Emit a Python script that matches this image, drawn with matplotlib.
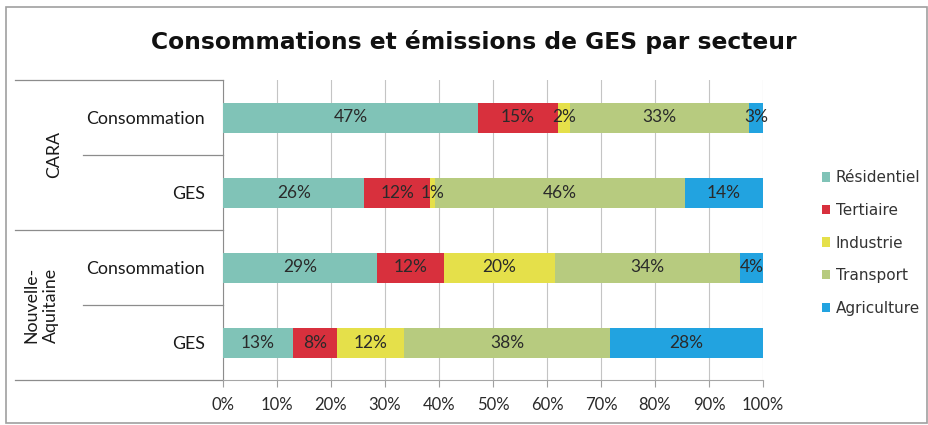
import matplotlib.pyplot as plt
import matplotlib.transforms as mtransforms
from matplotlib.lines import Line2D
from matplotlib.patches import Patch, Rectangle
import numpy as np

# data (shares in %)
rows = ["Consommation", "GES", "Consommation", "GES"]
groups = ["CARA", "Nouvelle-\nAquitaine"]
sectors = ["Résidentiel", "Tertiaire", "Industrie", "Transport", "Agriculture"]
residentiel = [47.2, 26.2, 28.6, 12.9]
tertiaire = [14.8, 12.2, 12.4, 8.3]
industrie = [2.3, 0.8, 20.4, 12.3]
transport = [33.1, 46.4, 34.4, 38.2]
agriculture = [2.6, 14.4, 4.2, 28.3]
xticks = [0, 10, 20, 30, 40, 50, 60, 70, 80, 90, 100]

colors = ["#80c3b7", "#d8303d", "#e5e04a", "#b7cb7f", "#22a3e0"]
series = [residentiel, tertiaire, industrie, transport, agriculture]

fig = plt.figure(figsize=(9.29, 4.25), dpi=100)
fig.patch.set_facecolor("white")
ax = fig.add_axes([223 / 929, 1 - 380 / 425, 540 / 929, 300 / 425])

y = np.arange(len(rows))
left = np.zeros(len(rows))
for vals, col, name in zip(series, colors, sectors):
    vals = np.array(vals)
    ax.barh(y, vals, left=left, height=0.4, color=col, label=name, zorder=3)
    for yi, l, v in zip(y, left, vals):
        ax.text(l + v / 2, yi, f"{round(v)}%", ha="center", va="center",
                fontsize=12.5, family="Lato", color="#2a2a2a", zorder=4)
    left += vals

ax.set_xlim(0, 100)
ax.set_ylim(3.5, -0.5)
ax.set_xticks(xticks)
ax.set_xticklabels([f"{t}%" for t in xticks], family="Lato", fontsize=12, color="#2a2a2a")
ax.set_yticks(y)
ax.set_yticklabels(rows, family="Lato", fontsize=12.8, color="#1a1a1a")
ax.tick_params(axis="y", length=0, pad=13)
ax.tick_params(axis="x", length=5, color="#a0a0a0", pad=7)
ax.grid(True, axis="x", color="#c4c4c4", linewidth=0.8, zorder=0)
for s in ["top", "right"]:
    ax.spines[s].set_visible(False)
ax.spines["left"].set_color("#8c8c8c")
ax.spines["bottom"].set_color("#a6a6a6")

# category grouping lines on the left
trans = mtransforms.blended_transform_factory(ax.transAxes, ax.transData)
for yl, x0 in [(-0.5, -0.385), (0.5, -0.259), (1.5, -0.385), (2.5, -0.259), (3.5, -0.385)]:
    ax.add_line(Line2D([x0, 0], [yl, yl], transform=trans, color="#8c8c8c",
                       linewidth=0.9, clip_on=False))
ax.text(-0.313, 0.5, groups[0], transform=trans, rotation=90, ha="center", va="center",
        family="Lato", fontsize=12.8, color="#1a1a1a")
ax.text(-0.337, 2.5, groups[1], transform=trans, rotation=90, ha="center", va="center",
        family="Lato", fontsize=12.8, color="#1a1a1a", linespacing=1.3)

fig.text(0.51, 1 - 42 / 425, "Consommations et émissions de GES par secteur",
         ha="center", va="center", fontsize=16.8, fontweight="bold", color="#111111")

handles = [Patch(facecolor=c, edgecolor="none") for c in colors]
fig.legend(handles, sectors, loc="center left", bbox_to_anchor=(808 / 929, 1 - 243 / 425),
           frameon=False, fontsize=11, handlelength=0.55, handleheight=0.55,
           handletextpad=0.35, labelspacing=1.15, labelcolor="#333333")

# outer chart frame
fig.add_artist(Rectangle((6 / 929, 2 / 425), 921 / 929, 416 / 425, transform=fig.transFigure,
                         fill=False, edgecolor="#a0a0a0", linewidth=1.2))

fig.savefig("out.png", dpi=100, facecolor="white")
